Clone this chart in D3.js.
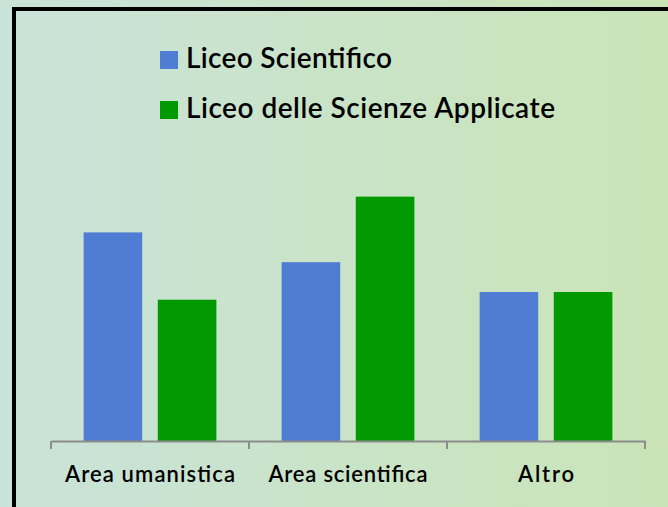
<!DOCTYPE html>
<html>
<head>
  <meta charset="utf-8">
  <style>
    body { margin: 0; overflow: hidden; }
    text { font-family: "Lato", "Open Sans", sans-serif; fill: #000; font-weight: 600; }
  </style>
</head>
<body>
  <svg id="chart" width="668" height="507"></svg>
  <script src="https://cdn.jsdelivr.net/npm/d3@7"></script>
  <script>
    // data
    var categories = ["Area umanistica", "Area scientifica", "Altro"];
    var seriesNames = ["Liceo Scientifico", "Liceo delle Scienze Applicate"];
    var liceoScientifico = [35, 30, 25];
    var scienzeApplicate = [23.7, 41, 25];
    var colors = ["#4f7dd4", "#009900"];
    // text widths measured on the picture
    var labelWidths = [170, 159, 56];
    var legendWidths = [206, 369];

    var svg = d3.select("#chart");
    var W = 668, H = 507;

    // background gradient
    var grad = svg.append("defs").append("linearGradient")
      .attr("id", "bg").attr("x1", "0%").attr("x2", "100%").attr("y1", "0%").attr("y2", "0%");
    grad.append("stop").attr("offset", "0%").attr("stop-color", "#c9e3da");
    grad.append("stop").attr("offset", "100%").attr("stop-color", "#cae4b7");
    svg.append("rect").attr("width", W).attr("height", H).attr("fill", "url(#bg)");

    // frame (only top and left visible)
    svg.append("rect")
      .attr("x", 14).attr("y", 9).attr("width", 800).attr("height", 700)
      .attr("fill", "none").attr("stroke", "#000").attr("stroke-width", 4);

    var x0 = d3.scaleBand().domain(categories).range([51, 645]);
    var x1 = d3.scaleBand().domain(seriesNames).range([0, x0.bandwidth()])
      .paddingInner(0.21).paddingOuter(0.44);
    var y = d3.scaleLinear().domain([0, 50]).range([441, 143]);

    var rows = categories.map(function (c, i) {
      return { cat: c, values: [liceoScientifico[i], scienzeApplicate[i]] };
    });

    var group = svg.selectAll(".grp")
      .data(rows)
      .enter().append("g")
      .attr("class", "grp")
      .attr("transform", function (d) { return "translate(" + x0(d.cat) + ",0)"; });

    group.selectAll("rect")
      .data(function (d) { return d.values.map(function (v, j) { return { name: seriesNames[j], value: v, j: j }; }); })
      .enter().append("rect")
      .attr("x", function (d) { return x1(d.name); })
      .attr("width", x1.bandwidth())
      .attr("y", function (d) { return y(d.value); })
      .attr("height", function (d) { return y(0) - y(d.value); })
      .attr("fill", function (d) { return colors[d.j]; });

    // x axis
    var axis = svg.append("g")
      .attr("transform", "translate(0," + 441 + ")")
      .call(d3.axisBottom(x0).tickSizeInner(0).tickSizeOuter(0).tickFormat(""));
    axis.select(".domain").attr("stroke", "#8c8c8c").attr("stroke-width", 2);
    axis.selectAll(".tick").remove();

    // tick marks at category boundaries
    var bounds = categories.map(function (c) { return x0(c); }).concat([x0.range()[1]]);
    svg.selectAll(".bt")
      .data(bounds)
      .enter().append("line")
      .attr("x1", function (d) { return d; })
      .attr("x2", function (d) { return d; })
      .attr("y1", 441).attr("y2", 449)
      .attr("stroke", "#8c8c8c").attr("stroke-width", 2);

    // category labels
    svg.selectAll(".lab")
      .data(categories)
      .enter().append("text")
      .attr("x", function (d) { return x0(d) + x0.bandwidth() / 2; })
      .attr("y", 482)
      .attr("text-anchor", "middle")
      .attr("textLength", function (d, i) { return labelWidths[i]; })
      .attr("lengthAdjust", "spacing")
      .style("font-size", "22px")
      .text(function (d) { return d; });

    // legend
    var leg = svg.selectAll(".leg")
      .data(seriesNames)
      .enter().append("g")
      .attr("transform", function (d, i) { return "translate(160," + (51 + i * 50) + ")"; });
    leg.append("rect").attr("width", 18).attr("height", 18)
      .attr("fill", function (d, i) { return colors[i]; });
    leg.append("text").attr("x", 26).attr("y", 16.5)
      .attr("textLength", function (d, i) { return legendWidths[i]; })
      .attr("lengthAdjust", "spacing")
      .style("font-size", "28px")
      .text(function (d) { return d; });
  </script>
</body>
</html>
